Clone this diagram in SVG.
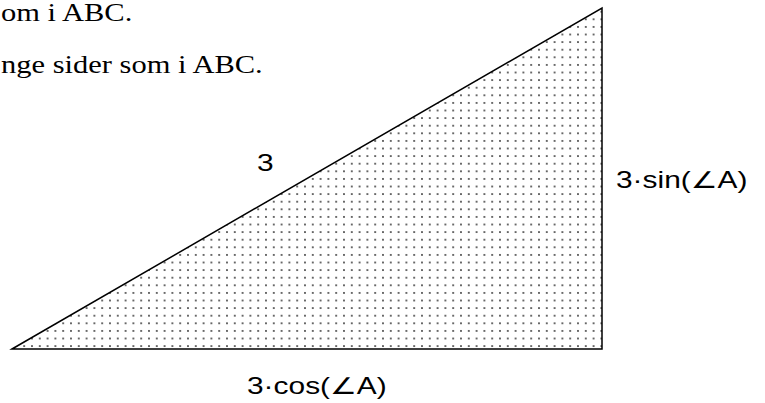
<svg xmlns="http://www.w3.org/2000/svg" width="765" height="403" viewBox="0 0 765 403">
<style>
.serif{font-family:"Liberation Serif","Times New Roman",serif;font-size:25px;fill:#000}
.lbl{font-family:"Liberation Sans",Arial,"DejaVu Sans",sans-serif;font-size:23px;fill:#000}
.tri{stroke:#000;stroke-width:1.5;fill:url(#dots);stroke-linejoin:miter}
</style>
<defs>
<pattern id="dots" patternUnits="userSpaceOnUse" x="301.1" y="197.9" width="7.8" height="7.6">
<rect width="7.8" height="7.6" fill="#fff"/>
<circle cx="3.9" cy="3.8" r="0.95" fill="#333"/>
</pattern>
</defs>
<g id="text-lines">
<text class="serif" transform="translate(1,21) scale(1.22,1)">om i ABC.</text>
<text class="serif" transform="translate(1,73) scale(1.22,1)">nge sider som i ABC.</text>
</g>
<g id="triangle">
<polygon class="tri" points="12,349 602,8 602,349"/>
</g>
<g id="connectors"></g>
<g id="label-hyp">
<text class="lbl" transform="translate(257,171) scale(1.3,1)">3</text>
</g>
<g id="label-sin">
<text class="lbl" transform="translate(616,188) scale(1.3,1)">3·sin(∠A)</text>
</g>
<g id="label-cos">
<text class="lbl" transform="translate(247,394) scale(1.3,1)">3·cos(∠A)</text>
</g>
</svg>
